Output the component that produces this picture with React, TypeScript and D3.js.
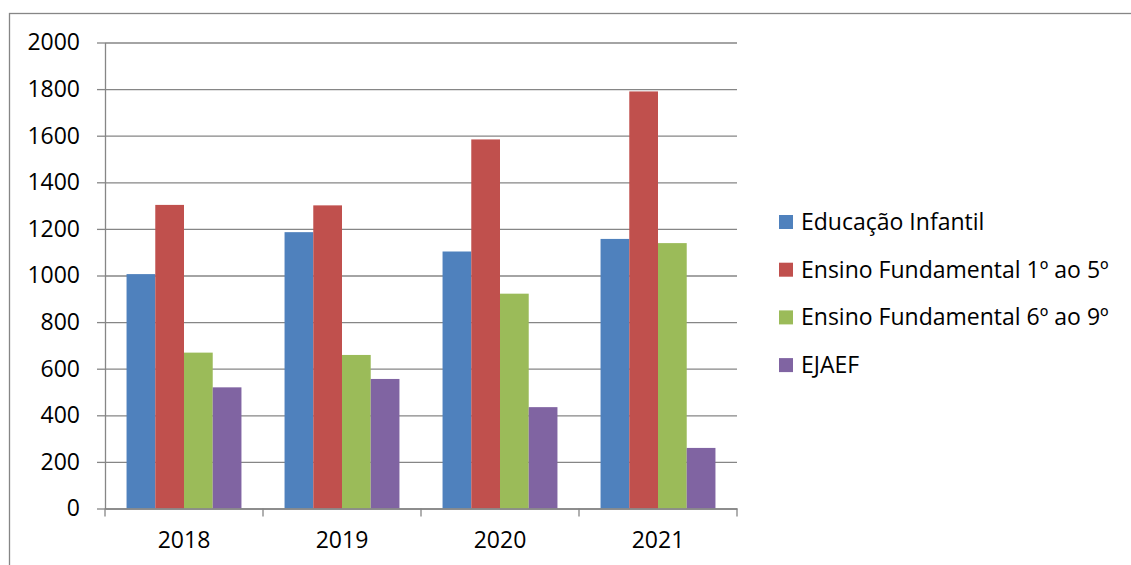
import React, { useRef, useEffect } from 'react';
import * as d3 from 'd3';

// dados do gráfico
const years = ['2018', '2019', '2020', '2021'];
const seriesNames = [
  'Educação Infantil',
  'Ensino Fundamental 1º ao 5º',
  'Ensino Fundamental 6º ao 9º',
  'EJAEF',
];
const educacaoInfantil = [1006, 1186, 1103, 1157];
const fundamental1a5 = [1303, 1301, 1584, 1790];
const fundamental6a9 = [669, 659, 922, 1139];
const ejaef = [520, 556, 435, 260];
const yTicks = [0, 200, 400, 600, 800, 1000, 1200, 1400, 1600, 1800, 2000];

const colors = ['#4F81BD', '#C0504D', '#9BBB59', '#8064A2'];

const W = 1131;
const H = 565;
const FONT = '"Open Sans", sans-serif';
const FONT_SIZE = '23px';

const App: React.FC = () => {
  const svgRef = useRef<SVGSVGElement | null>(null);

  useEffect(() => {
    if (!svgRef.current) return;
    const root = d3.select(svgRef.current);
    root.selectAll('*').remove();

    const allSeries = [educacaoInfantil, fundamental1a5, fundamental6a9, ejaef];

    const plot = { left: 105, right: 737, top: 42.5, bottom: 508.5 };

    // moldura externa (só aparecem as bordas esquerda e superior)
    root.append('rect')
      .attr('x', 9.5)
      .attr('y', 13.5)
      .attr('width', W + 20)
      .attr('height', H + 20)
      .attr('fill', 'none')
      .attr('stroke', '#868686')
      .attr('stroke-width', 1.3);

    const x0 = d3.scaleBand<string>()
      .domain(years)
      .range([plot.left, plot.right]);

    // gap width 150% -> 4 barras + 1.5 barra de espaço
    const x1 = d3.scaleBand<number>()
      .domain(d3.range(seriesNames.length))
      .range([0, x0.bandwidth()])
      .paddingOuter(0.75)
      .paddingInner(0);

    const y = d3.scaleLinear()
      .domain([0, 2000])
      .range([plot.bottom, plot.top]);

    // grade horizontal
    root.append('g')
      .attr('transform', `translate(${plot.left},0)`)
      .call(
        d3.axisLeft(y)
          .tickValues(yTicks)
          .tickSize(-(plot.right - plot.left))
          .tickFormat(() => '')
      )
      .call(g => g.select('.domain').remove())
      .call(g => g.selectAll('line').attr('stroke', '#868686').attr('stroke-width', 1.3));

    // eixo Y
    const yAxis = root.append('g')
      .attr('transform', `translate(${plot.left},0)`)
      .call(
        d3.axisLeft(y)
          .tickValues(yTicks)
          .tickFormat(d3.format('d'))
          .tickSize(8)
          .tickPadding(17)
          .tickSizeOuter(0)
      );
    yAxis.select('.domain').attr('stroke', '#868686').attr('stroke-width', 1.3);
    yAxis.selectAll('line').attr('stroke', '#868686').attr('stroke-width', 1.3);
    yAxis.selectAll('text')
      .attr('fill', '#000')
      .style('font-family', FONT)
      .style('font-size', FONT_SIZE);

    // barras
    years.forEach((yr, i) => {
      const g = root.append('g').attr('transform', `translate(${x0(yr)},0)`);
      g.selectAll('rect')
        .data(allSeries.map(s => s[i]))
        .enter().append('rect')
        .attr('x', (_d, j) => x1(j)!)
        .attr('y', d => y(d))
        .attr('width', x1.bandwidth())
        .attr('height', d => plot.bottom - y(d))
        .attr('fill', (_d, j) => colors[j]);
    });

    // eixo X
    const xAxis = root.append('g')
      .attr('transform', `translate(0,${plot.bottom})`)
      .call(d3.axisBottom(x0).tickSize(0).tickPadding(23));
    xAxis.select('.domain').attr('stroke', '#868686').attr('stroke-width', 1.3);
    xAxis.selectAll('text')
      .attr('fill', '#000')
      .style('font-family', FONT)
      .style('font-size', FONT_SIZE);
    // marcas entre categorias
    xAxis.selectAll('line.sep')
      .data(d3.range(years.length + 1))
      .enter().append('line')
      .attr('class', 'sep')
      .attr('x1', d => plot.left + d * x0.step())
      .attr('x2', d => plot.left + d * x0.step())
      .attr('y1', 0)
      .attr('y2', 8)
      .attr('stroke', '#868686')
      .attr('stroke-width', 1.3);

    // legenda
    const legend = root.append('g').attr('transform', 'translate(779,222)');
    seriesNames.forEach((name, i) => {
      const row = legend.append('g').attr('transform', `translate(0,${i * 47.7})`);
      row.append('rect')
        .attr('x', 0)
        .attr('y', -7)
        .attr('width', 14)
        .attr('height', 14)
        .attr('fill', colors[i]);
      row.append('text')
        .attr('x', 22)
        .attr('y', 0)
        .attr('dy', '0.35em')
        .attr('fill', '#000')
        .style('font-family', FONT)
        .style('font-size', FONT_SIZE)
        .text(name);
    });
  }, []);

  return (
    <svg
      ref={svgRef}
      width={W}
      height={H}
      style={{ position: 'absolute', left: 0, top: 0, background: '#fff', display: 'block' }}
    />
  );
};

export default App;
